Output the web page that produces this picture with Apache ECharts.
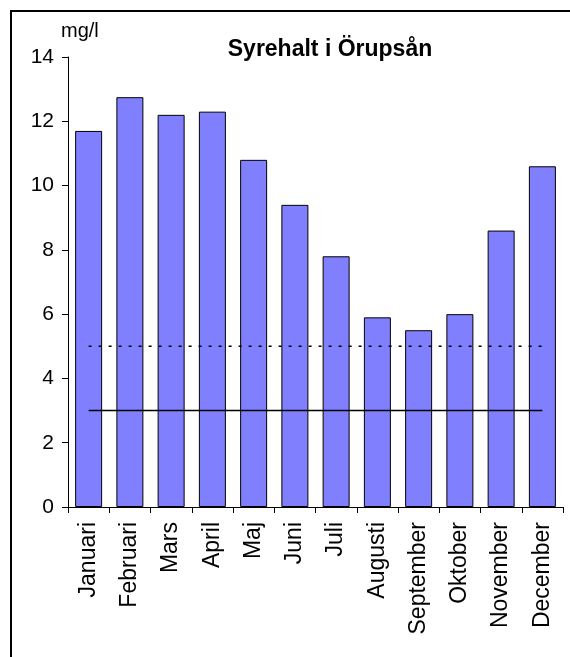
<!DOCTYPE html>
<html>
<head>
<meta charset="utf-8">
<script src="https://cdn.jsdelivr.net/npm/echarts@6/dist/echarts.min.js"></script>
<style>
  html, body { margin: 0; padding: 0; background: #fff; }
  #chart { width: 570px; height: 657px; }
</style>
</head>
<body>
<div id="chart"></div>
<script>
// Monthly dissolved oxygen in Örupsån (mg/l)
const months = ['Januari', 'Februari', 'Mars', 'April', 'Maj', 'Juni', 'Juli',
  'Augusti', 'September', 'Oktober', 'November', 'December'];
const oxygen = [11.7, 12.75, 12.2, 12.3, 10.8, 9.4, 7.8, 5.9, 5.5, 6.0, 8.6, 10.6];
// Reference levels drawn across the year
const levelDashed = 5;
const levelSolid = 3;
const yTicks = [0, 2, 4, 6, 8, 10, 12, 14];

const font = '"Liberation Sans", Arial, sans-serif';
const chart = echarts.init(document.getElementById('chart'), null, { renderer: 'canvas' });

chart.setOption({
  animation: false,
  backgroundColor: '#ffffff',
  title: {
    text: 'Syrehalt i Örupsån',
    left: 325,
    top: 33,
    textAlign: 'center',
    textStyle: { fontFamily: font, fontSize: 23, fontWeight: 'bold', color: '#000' }
  },
  graphic: [
    {
      type: 'text', left: 61, top: 21,
      style: { text: 'mg/l', font: '20px ' + font, fill: '#000' }
    },
    {
      type: 'polyline', silent: true,
      shape: { points: [[11, 657], [11, 11], [570, 11]] },
      style: { stroke: '#000', lineWidth: 2, fill: null }
    }
  ],
  grid: { left: 68, right: 7, top: 57, bottom: 150, containLabel: false },
  xAxis: {
    type: 'category',
    data: months,
    boundaryGap: true,
    axisLine: { lineStyle: { color: '#000', width: 1 } },
    axisTick: { show: true, length: 6, lineStyle: { color: '#000' }, alignWithLabel: false },
    axisLabel: {
      rotate: 90, margin: 15, color: '#000',
      fontFamily: font, fontSize: 23, interval: 0
    },
    splitLine: { show: false }
  },
  yAxis: {
    type: 'value',
    min: yTicks[0],
    max: yTicks[yTicks.length - 1],
    interval: 2,
    axisLine: { show: true, lineStyle: { color: '#000', width: 1 } },
    axisTick: { show: true, length: 6, lineStyle: { color: '#000' } },
    axisLabel: { margin: 14, color: '#000', fontFamily: font, fontSize: 21 },
    splitLine: { show: false }
  },
  series: [
    {
      type: 'bar',
      data: oxygen,
      barWidth: 27,
      itemStyle: { color: '#8080ff', borderColor: '#000', borderWidth: 1 }
    },
    {
      type: 'line',
      data: months.map(() => levelDashed),
      symbol: 'none',
      lineStyle: { color: '#000', width: 1.5, type: [3, 7] },
      z: 5
    },
    {
      type: 'line',
      data: months.map(() => levelSolid),
      symbol: 'none',
      lineStyle: { color: '#000', width: 1.5, type: 'solid' },
      z: 5
    }
  ]
});
</script>
</body>
</html>
